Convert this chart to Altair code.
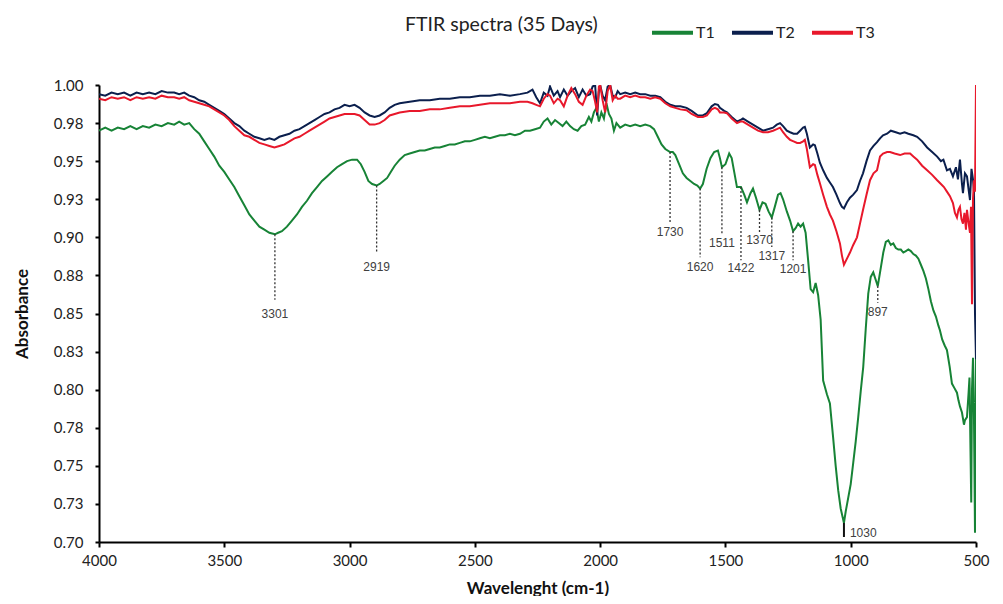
import altair as alt
import pandas as pd

series_names = ["T1", "T2", "T3"]
series_colors = ["#178336", "#0B1F4D", "#E8182B"]

t1_wn = [4000, 3975, 3950, 3925, 3900, 3875, 3850, 3825, 3800, 3775, 3750, 3725, 3700, 3680, 3660, 3640,
         3620, 3600, 3580, 3560, 3540, 3520, 3500, 3480, 3460, 3440, 3420, 3400, 3380, 3360, 3340, 3320,
         3298, 3285, 3270, 3250, 3230, 3210, 3190, 3170, 3150, 3130, 3110, 3090, 3070, 3050, 3030, 3010,
         2990, 2970, 2955, 2940, 2925, 2910, 2892, 2880, 2865, 2850, 2835, 2820, 2800, 2780, 2760, 2740,
         2720, 2700, 2680, 2660, 2640, 2620, 2600, 2580, 2560, 2540, 2520, 2500, 2480, 2460, 2440, 2420,
         2400, 2380, 2360, 2340, 2320, 2300, 2280, 2260, 2240, 2225, 2210, 2195, 2180, 2165, 2150, 2135,
         2120, 2105, 2090, 2075, 2060, 2045, 2035, 2025, 2015, 2005, 1995, 1985, 1975, 1965, 1955, 1945,
         1935, 1920, 1900, 1880, 1860, 1840, 1820, 1800, 1785, 1770, 1755, 1740, 1721, 1710, 1700, 1685,
         1670, 1655, 1640, 1625, 1612, 1601, 1590, 1575, 1560, 1545, 1530, 1522, 1514, 1500, 1485, 1475,
         1465, 1454, 1438, 1425, 1414, 1400, 1390, 1378, 1364, 1352, 1340, 1328, 1315, 1303, 1290, 1280,
         1270, 1255, 1242, 1230, 1220, 1210, 1200, 1190, 1180, 1170, 1160, 1150, 1140, 1130, 1120, 1110,
         1095, 1083, 1071, 1060, 1050, 1040, 1027, 1020, 1010, 1000, 990, 980, 970, 960, 950, 940,
         930, 920, 910, 900, 892, 880, 870, 860, 850, 840, 830, 820, 810, 800, 790, 780,
         770, 760, 750, 740, 730, 720, 710, 700, 690, 680, 670, 660, 650, 644, 635, 625,
         616, 605, 596, 586, 576, 570, 564, 556, 548, 544, 536, 530, 526, 522, 519, 516,
         512, 508, 504, 500]
t1_abs = [0.970, 0.972, 0.970, 0.972, 0.971, 0.973, 0.971, 0.973, 0.972, 0.974, 0.973, 0.975, 0.974, 0.976, 0.974, 0.975,
          0.971, 0.968, 0.963, 0.958, 0.953, 0.947, 0.943, 0.938, 0.933, 0.927, 0.921, 0.915, 0.911, 0.907, 0.905, 0.903,
          0.902, 0.903, 0.904, 0.907, 0.911, 0.915, 0.920, 0.924, 0.929, 0.933, 0.937, 0.940, 0.943, 0.946, 0.948, 0.950,
          0.951, 0.951, 0.948, 0.943, 0.937, 0.935, 0.934, 0.935, 0.937, 0.939, 0.943, 0.947, 0.951, 0.954, 0.955, 0.956,
          0.957, 0.957, 0.958, 0.959, 0.959, 0.960, 0.961, 0.961, 0.962, 0.963, 0.963, 0.964, 0.965, 0.966, 0.965, 0.966,
          0.967, 0.967, 0.968, 0.967, 0.968, 0.970, 0.970, 0.971, 0.972, 0.976, 0.978, 0.974, 0.977, 0.975, 0.973, 0.976,
          0.973, 0.971, 0.970, 0.973, 0.974, 0.979, 0.976, 0.982, 0.985, 0.976, 0.982, 0.978, 0.988, 0.981, 0.978, 0.970,
          0.975, 0.972, 0.974, 0.973, 0.974, 0.973, 0.974, 0.973, 0.971, 0.966, 0.961, 0.958, 0.956, 0.956, 0.954, 0.948,
          0.942, 0.939, 0.937, 0.935, 0.934, 0.932, 0.935, 0.945, 0.952, 0.956, 0.957, 0.952, 0.946, 0.948, 0.955, 0.952,
          0.943, 0.933, 0.933, 0.928, 0.923, 0.929, 0.932, 0.926, 0.918, 0.923, 0.922, 0.917, 0.913, 0.920, 0.928, 0.929,
          0.925, 0.917, 0.911, 0.904, 0.906, 0.909, 0.907, 0.909, 0.903, 0.885, 0.866, 0.864, 0.870, 0.862, 0.846, 0.806,
          0.797, 0.791, 0.770, 0.750, 0.734, 0.722, 0.7125, 0.720, 0.729, 0.738, 0.752, 0.766, 0.782, 0.799, 0.815, 0.840,
          0.863, 0.874, 0.877, 0.872, 0.868, 0.880, 0.890, 0.897, 0.898, 0.895, 0.896, 0.893, 0.892, 0.892, 0.890, 0.891,
          0.892, 0.891, 0.889, 0.888, 0.886, 0.882, 0.878, 0.873, 0.866, 0.858, 0.852, 0.848, 0.842, 0.839, 0.833, 0.829,
          0.826, 0.815, 0.804, 0.801, 0.798, 0.793, 0.789, 0.785, 0.777, 0.780, 0.782, 0.797, 0.808, 0.760, 0.726, 0.800,
          0.821, 0.780, 0.706, 0.826]

t2_wn = [4000, 3975, 3950, 3925, 3900, 3875, 3850, 3825, 3800, 3775, 3750, 3725, 3700, 3680, 3660, 3640,
         3620, 3600, 3580, 3560, 3540, 3520, 3500, 3480, 3460, 3440, 3420, 3400, 3380, 3360, 3340, 3320,
         3300, 3280, 3260, 3240, 3220, 3200, 3180, 3160, 3140, 3120, 3100, 3080, 3060, 3040, 3020, 3000,
         2980, 2960, 2940, 2920, 2900, 2880, 2860, 2840, 2820, 2800, 2760, 2720, 2680, 2640, 2600, 2560,
         2520, 2480, 2440, 2400, 2360, 2320, 2290, 2270, 2255, 2240, 2225, 2210, 2200, 2185, 2170, 2160,
         2145, 2130, 2115, 2100, 2085, 2070, 2055, 2040, 2030, 2020, 2012, 2005, 2000, 1990, 1980, 1970,
         1960, 1950, 1940, 1930, 1920, 1900, 1880, 1860, 1840, 1820, 1800, 1780, 1760, 1740, 1720, 1700,
         1680, 1655, 1635, 1610, 1590, 1574, 1555, 1542, 1530, 1522, 1505, 1494, 1475, 1454, 1440, 1430,
         1410, 1390, 1370, 1350, 1330, 1310, 1295, 1282, 1270, 1255, 1242, 1228, 1214, 1202, 1190, 1183,
         1175, 1163, 1150, 1143, 1133, 1123, 1110, 1095, 1083, 1071, 1057, 1043, 1035, 1027, 1015, 1003,
         990, 975, 963, 951, 937, 923, 909, 895, 883, 871, 855, 840, 820, 803, 785, 770,
         750, 735, 715, 695, 675, 655, 640, 630, 616, 604, 592, 580, 572, 564, 556, 552,
         544, 536, 530, 524, 518, 512, 508, 504, 500]
t2_abs = [0.994, 0.993, 0.995, 0.994, 0.995, 0.993, 0.995, 0.994, 0.995, 0.994, 0.996, 0.995, 0.995, 0.994, 0.995, 0.993,
          0.992, 0.990, 0.989, 0.987, 0.985, 0.983, 0.981, 0.978, 0.975, 0.973, 0.970, 0.968, 0.966, 0.965, 0.964, 0.965,
          0.964, 0.966, 0.967, 0.968, 0.970, 0.971, 0.973, 0.975, 0.977, 0.979, 0.981, 0.982, 0.984, 0.985, 0.987, 0.986,
          0.987, 0.985, 0.982, 0.980, 0.979, 0.980, 0.982, 0.985, 0.987, 0.988, 0.989, 0.990, 0.990, 0.991, 0.991, 0.992,
          0.992, 0.993, 0.993, 0.994, 0.993, 0.994, 0.995, 0.997, 0.992, 0.988, 0.995, 0.993, 0.999, 0.993, 0.996, 0.992,
          0.997, 0.993, 0.996, 0.998, 0.992, 0.997, 0.993, 0.994, 0.999, 1.000, 0.980, 0.996, 1.000, 0.993, 0.990, 0.999,
          1.000, 0.993, 0.992, 0.996, 0.994, 0.995, 0.994, 0.995, 0.994, 0.994, 0.993, 0.993, 0.992, 0.989, 0.987, 0.986,
          0.986, 0.985, 0.983, 0.980, 0.980, 0.9815, 0.986, 0.9875, 0.987, 0.985, 0.983, 0.982, 0.979, 0.976, 0.977, 0.978,
          0.976, 0.974, 0.972, 0.970, 0.971, 0.972, 0.974, 0.975, 0.973, 0.970, 0.969, 0.968, 0.968, 0.970, 0.972, 0.9725,
          0.968, 0.959, 0.961, 0.9605, 0.955, 0.949, 0.944, 0.939, 0.936, 0.933, 0.928, 0.9225, 0.920, 0.919, 0.923, 0.926,
          0.928, 0.931, 0.937, 0.942, 0.950, 0.957, 0.960, 0.9625, 0.965, 0.967, 0.968, 0.970, 0.969, 0.968, 0.969, 0.968,
          0.967, 0.966, 0.963, 0.959, 0.956, 0.953, 0.950, 0.951, 0.944, 0.945, 0.940, 0.946, 0.938, 0.951, 0.935, 0.929,
          0.942, 0.940, 0.932, 0.9245, 0.945, 0.938, 0.930, 0.850, 0.820]

t3_wn = [4000, 3975, 3950, 3925, 3900, 3875, 3850, 3825, 3800, 3775, 3750, 3725, 3700, 3680, 3660, 3640,
         3620, 3600, 3580, 3560, 3540, 3520, 3500, 3480, 3460, 3440, 3420, 3400, 3380, 3360, 3340, 3320,
         3300, 3280, 3260, 3240, 3220, 3200, 3180, 3160, 3140, 3120, 3100, 3080, 3060, 3040, 3020, 3000,
         2980, 2960, 2940, 2920, 2900, 2880, 2860, 2840, 2820, 2800, 2760, 2720, 2680, 2640, 2600, 2560,
         2520, 2480, 2440, 2400, 2360, 2320, 2290, 2270, 2255, 2240, 2225, 2210, 2200, 2185, 2170, 2160,
         2145, 2130, 2115, 2100, 2085, 2070, 2055, 2040, 2030, 2020, 2012, 2005, 2000, 1990, 1980, 1970,
         1960, 1950, 1940, 1930, 1920, 1900, 1880, 1860, 1840, 1820, 1800, 1780, 1760, 1740, 1720, 1700,
         1680, 1655, 1635, 1610, 1590, 1574, 1555, 1542, 1530, 1522, 1505, 1494, 1475, 1454, 1440, 1430,
         1410, 1390, 1370, 1350, 1330, 1310, 1295, 1282, 1270, 1255, 1242, 1228, 1214, 1202, 1190, 1183,
         1175, 1163, 1150, 1143, 1133, 1123, 1110, 1095, 1083, 1071, 1057, 1043, 1035, 1027, 1015, 1003,
         990, 975, 963, 951, 937, 923, 909, 895, 883, 871, 855, 843, 825, 803, 785, 763,
         750, 735, 715, 695, 675, 655, 640, 628, 616, 604, 592, 584, 576, 570, 564, 558,
         552, 546, 540, 536, 530, 524, 520, 516, 512, 508, 504, 500]
t3_abs = [0.991, 0.990, 0.992, 0.991, 0.992, 0.990, 0.992, 0.991, 0.992, 0.991, 0.993, 0.992, 0.992, 0.991, 0.992, 0.990,
          0.989, 0.988, 0.987, 0.986, 0.984, 0.982, 0.980, 0.977, 0.973, 0.970, 0.967, 0.966, 0.964, 0.962, 0.961, 0.960,
          0.959, 0.960, 0.961, 0.963, 0.965, 0.966, 0.968, 0.970, 0.972, 0.974, 0.976, 0.978, 0.979, 0.980, 0.981, 0.981,
          0.981, 0.980, 0.977, 0.974, 0.974, 0.975, 0.977, 0.980, 0.981, 0.982, 0.983, 0.983, 0.984, 0.984, 0.985, 0.986,
          0.986, 0.987, 0.988, 0.988, 0.988, 0.989, 0.989, 0.988, 0.987, 0.986, 0.991, 0.994, 0.993, 0.988, 0.991, 0.990,
          0.986, 0.993, 0.998, 0.994, 0.989, 0.987, 0.993, 0.997, 0.996, 0.989, 0.982, 0.999, 1.000, 0.990, 0.982, 0.996,
          1.000, 0.990, 0.993, 0.991, 0.991, 0.993, 0.992, 0.993, 0.992, 0.992, 0.991, 0.992, 0.991, 0.988, 0.986, 0.985,
          0.984, 0.9835, 0.981, 0.979, 0.979, 0.980, 0.984, 0.985, 0.984, 0.982, 0.982, 0.9815, 0.978, 0.975, 0.976, 0.976,
          0.974, 0.972, 0.970, 0.969, 0.969, 0.970, 0.971, 0.972, 0.969, 0.966, 0.964, 0.963, 0.962, 0.962, 0.963, 0.964,
          0.958, 0.946, 0.948, 0.9475, 0.941, 0.9355, 0.928, 0.920, 0.915, 0.911, 0.904, 0.896, 0.888, 0.882, 0.886, 0.890,
          0.895, 0.900, 0.909, 0.918, 0.928, 0.9375, 0.942, 0.944, 0.953, 0.955, 0.956, 0.956, 0.955, 0.954, 0.955, 0.955,
          0.953, 0.951, 0.947, 0.944, 0.941, 0.9375, 0.935, 0.933, 0.930, 0.927, 0.9225, 0.916, 0.913, 0.918, 0.920, 0.912,
          0.909, 0.916, 0.905, 0.918, 0.910, 0.903, 0.920, 0.856, 0.925, 0.9375, 0.930, 1.000]

# peak annotations (dashed guides)
ann_label = ["3301", "2919", "1730", "1620", "1511", "1422", "1370", "1317", "1201", "897"]
ann_wn = [3298, 2892, 1721, 1601, 1514, 1438, 1364, 1315, 1230, 892]
ann_top = [0.902, 0.934, 0.956, 0.932, 0.946, 0.933, 0.918, 0.913, 0.904, 0.868]
ann_bottom = [0.859, 0.890, 0.909, 0.887, 0.9015, 0.885, 0.9035, 0.8937, 0.885, 0.857]
ann_text_v = [0.8497, 0.8805, 0.9035, 0.8805, 0.8963, 0.8799, 0.898, 0.8877, 0.8789, 0.851]

main_label = ["1030"]
main_wn = [1027]
main_top = [0.7125]
main_bottom = [0.7033]
main_text_v = [0.7062]

x_ticks = [4000, 3500, 3000, 2500, 2000, 1500, 1000, 500]
y_ticks = [0.70, 0.725, 0.75, 0.775, 0.80, 0.825, 0.85, 0.875, 0.90, 0.925, 0.95, 0.975, 1.00]

rows = []
for name, wn, ab in [("T1", t1_wn, t1_abs), ("T2", t2_wn, t2_abs), ("T3", t3_wn, t3_abs)]:
    for i, (w, a) in enumerate(zip(wn, ab)):
        rows.append({"series": name, "wn": w, "abs": a, "idx": i})
df = pd.DataFrame(rows)

ann_df = pd.DataFrame({"label": ann_label, "wn": ann_wn, "top": ann_top,
                       "bottom": ann_bottom, "tv": ann_text_v})
main_df = pd.DataFrame({"label": main_label, "wn": main_wn, "top": main_top,
                        "bottom": main_bottom, "tv": main_text_v})

FONT = "Lato"
x_scale = alt.Scale(domain=[500, 4000], reverse=True, nice=False, zero=False)
y_scale = alt.Scale(domain=[0.70, 1.00], nice=False, zero=False)

x_axis = alt.Axis(values=x_ticks, format="d", title="Wavelenght (cm-1)", grid=False,
                  labelFlush=False, labelOverlap=False, tickCount=20,
                  domainColor="black", domainWidth=2, tickColor="black", tickWidth=2, tickSize=5,
                  labelFont=FONT, labelFontSize=15, labelColor="#222", labelPadding=6,
                  titleFont=FONT, titleFontSize=17, titleFontWeight="bold", titleColor="#111",
                  titlePadding=12)
y_axis = alt.Axis(values=y_ticks, labelExpr="format(datum.value + 0.0001, '.2f')",
                  title="Absorbance", grid=False,
                  labelFlush=False, labelOverlap=False, tickCount=30,
                  domainColor="black", domainWidth=2, tickColor="black", tickWidth=2, tickSize=4,
                  labelFont=FONT, labelFontSize=15, labelColor="#222", labelPadding=12,
                  titleFont=FONT, titleFontSize=17, titleFontWeight="bold", titleColor="#111",
                  titlePadding=22)

lines = alt.Chart(df).mark_line(strokeWidth=2, clip=True).encode(
    x=alt.X("wn:Q", scale=x_scale, axis=x_axis),
    y=alt.Y("abs:Q", scale=y_scale, axis=y_axis),
    color=alt.Color("series:N",
                    scale=alt.Scale(domain=series_names, range=series_colors),
                    legend=alt.Legend(orient="none", legendX=306, legendY=-75,
                                      direction="horizontal", title="FTIR spectra (35 Days)",
                                      titleOrient="left", titleFont=FONT, titleFontSize=19.5,
                                      titleFontWeight="normal", titleColor="#222", titlePadding=52,
                                      titleBaseline="middle", titleLimit=1000,
                                      symbolType="stroke", symbolStrokeWidth=4, symbolSize=1681,
                                      labelFont=FONT, labelFontSize=16, labelColor="#222",
                                      labelFontWeight="normal",
                                      labelOffset=1, columnPadding=9)),
    order="idx:Q",
)

ann_rules = alt.Chart(ann_df).mark_rule(strokeDash=[2, 2], color="#333", strokeWidth=1.3).encode(
    x=alt.X("wn:Q", scale=x_scale), y=alt.Y("top:Q", scale=y_scale), y2="bottom:Q")
ann_text = alt.Chart(ann_df).mark_text(font="Liberation Sans", fontSize=12, color="#404040",
                                       align="center", baseline="middle").encode(
    x=alt.X("wn:Q", scale=x_scale), y=alt.Y("tv:Q", scale=y_scale), text="label:N")

main_rule = alt.Chart(main_df).mark_rule(color="#111", strokeWidth=2).encode(
    x=alt.X("wn:Q", scale=x_scale), y=alt.Y("top:Q", scale=y_scale), y2="bottom:Q")
main_text = alt.Chart(main_df).mark_text(font="Liberation Sans", fontSize=12, color="#404040",
                                         align="left", baseline="middle", dx=6).encode(
    x=alt.X("wn:Q", scale=x_scale), y=alt.Y("tv:Q", scale=y_scale), text="label:N")

chart = alt.layer(lines, ann_rules, ann_text, main_rule, main_text).properties(
    width=877, height=457,
    autosize=alt.AutoSizeParams(type="none"),
    padding={"left": 91, "top": 77, "right": 19, "bottom": 54},
    background="white",
).configure_view(stroke=None)

chart.save("out.html", embed_options={"renderer": "svg", "actions": False})
